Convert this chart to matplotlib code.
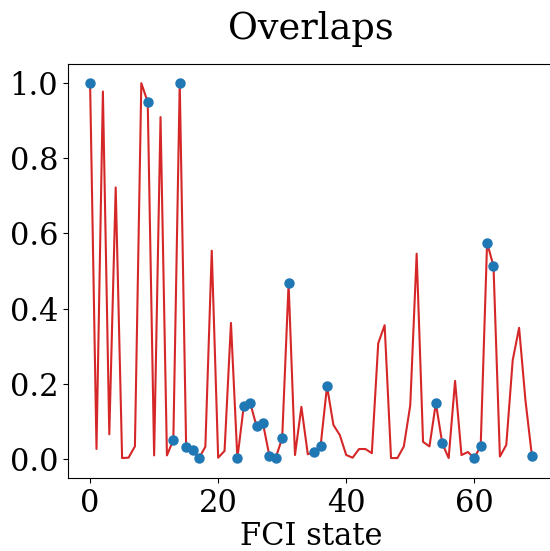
import numpy as np
from matplotlib import pyplot as plt

# overlap of each FCI state
overlaps = [1.000, 0.027, 0.977, 0.066, 0.722, 0.003, 0.004, 0.034, 0.999, 0.949,
            0.010, 0.909, 0.010, 0.051, 1.000, 0.033, 0.024, 0.003, 0.033, 0.554,
            0.004, 0.022, 0.362, 0.002, 0.141, 0.150, 0.087, 0.095, 0.009, 0.004,
            0.056, 0.467, 0.011, 0.139, 0.013, 0.020, 0.035, 0.194, 0.091, 0.064,
            0.011, 0.004, 0.027, 0.027, 0.016, 0.308, 0.356, 0.003, 0.003, 0.034,
            0.143, 0.546, 0.046, 0.034, 0.149, 0.042, 0.003, 0.208, 0.011, 0.019,
            0.003, 0.035, 0.575, 0.513, 0.007, 0.038, 0.263, 0.349, 0.155, 0.009]
states = np.arange(len(overlaps))

# states marked with a dot
marked = [0, 9, 13, 14, 15, 16, 17, 23, 24, 25, 26, 27, 28, 29, 30, 31,
          35, 36, 37, 54, 55, 60, 61, 62, 63, 69]

plt.rcParams['font.family'] = 'DejaVu Serif'
plt.rcParams['font.size'] = 22

fig = plt.figure(figsize=(5.5, 5.51), dpi=100)
ax = fig.add_axes([68 / 550, 73 / 551, 486 / 550, 414 / 551])

ov = np.array(overlaps)
ax.plot(states, ov, color='tab:red', lw=1.5)
ax.plot(states[marked], ov[marked], 'o', color='tab:blue', ms=6.5)

ax.set_xlim(-3.45, 72.45)
ax.set_ylim(-0.05, 1.05)
ax.set_xticks([0, 20, 40, 60])
ax.set_yticks([0.0, 0.2, 0.4, 0.6, 0.8, 1.0])
ax.set_xlabel('FCI state', labelpad=1.5)
ax.set_title('Overlaps', pad=18)

fig.savefig('out.png', dpi=100)
